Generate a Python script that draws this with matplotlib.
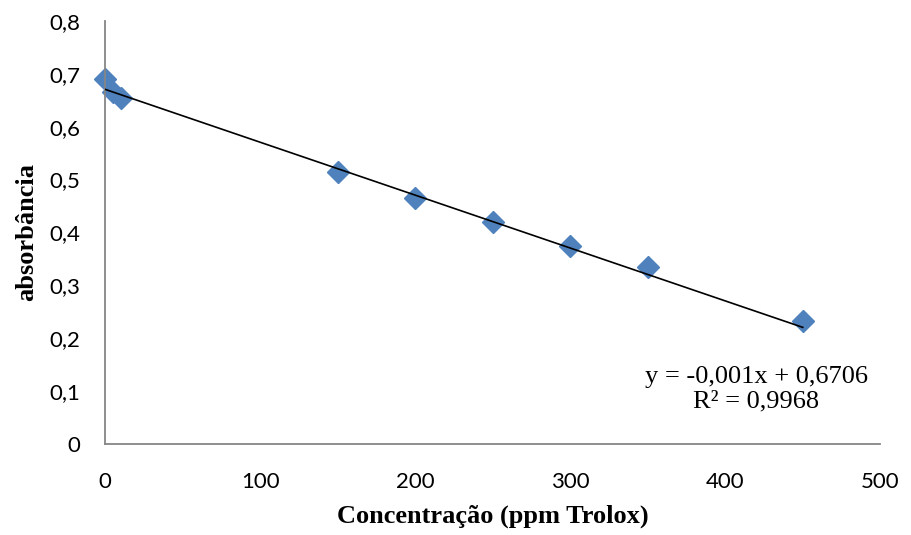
import numpy as np
import matplotlib
matplotlib.use('Agg')
import matplotlib.pyplot as plt

# dados
conc = [0, 5, 10, 150, 200, 250, 300, 350, 450]
absorb = [0.69, 0.665, 0.655, 0.515, 0.465, 0.42, 0.375, 0.335, 0.233]
slope = -0.001
intercept = 0.6706
eq_text = 'y = -0,001x + 0,6706\nR² = 0,9968'

xticks = [0, 100, 200, 300, 400, 500]
yticks = [0, 0.1, 0.2, 0.3, 0.4, 0.5, 0.6, 0.7, 0.8]
ytick_labels = ['0', '0,1', '0,2', '0,3', '0,4', '0,5', '0,6', '0,7', '0,8']

fig = plt.figure(figsize=(9.11, 5.35), dpi=100)
ax = fig.add_axes([0.1153, 0.170, 0.851, 0.791])

ax.plot(conc, absorb, linestyle='none', marker='D', ms=11, color='#4F81BD',
        clip_on=False, zorder=2)
xl = np.array([0, 450])
ax.plot(xl, slope * xl + intercept, color='black', lw=1.2, zorder=3)

ax.set_xlim(0, 500)
ax.set_ylim(0, 0.8)
ax.set_xticks(xticks)
ax.set_xticklabels([str(t) for t in xticks], fontsize=16, family='Lato')
ax.set_yticks(yticks)
ax.set_yticklabels(ytick_labels, fontsize=16, family='Lato')
ax.tick_params(axis='x', length=0, pad=20)
ax.tick_params(axis='y', length=0, pad=18)

for s in ['top', 'right']:
    ax.spines[s].set_visible(False)
for s in ['left', 'bottom']:
    ax.spines[s].set_color('#868686')
    ax.spines[s].set_linewidth(1.3)

ax.set_xlabel('Concentração (ppm Trolox)', family='Liberation Serif',
              fontweight='bold', fontsize=19, labelpad=9)
ax.set_ylabel('absorbância', family='Liberation Serif',
              fontweight='bold', fontsize=19, labelpad=8)

ax.text(420, 0.103, eq_text, ha='center', va='center', family='Liberation Serif',
        fontsize=19, linespacing=1.15)

fig.savefig('out.png', dpi=100)
